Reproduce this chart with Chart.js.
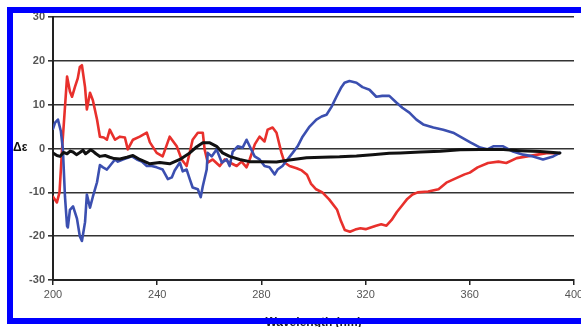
<!DOCTYPE html>
<html>
<head>
<meta charset="utf-8">
<script src="https://cdn.jsdelivr.net/npm/chart.js@4/dist/chart.umd.min.js"></script>
<style>
  html, body { margin: 0; padding: 0; background: #fff; overflow: hidden; }
  #wrap { position: relative; width: 581px; height: 327px; overflow: hidden; }
  #c { position: absolute; left: 0; top: 0; }
  #frame { position: absolute; left: 7px; top: 7px; width: 620px; height: 317px; border: 6px solid #0000ff; box-sizing: border-box; pointer-events: none; }
</style>
</head>
<body>
<div id="wrap">
  <canvas id="c" width="581" height="327"></canvas>
  <div id="frame"></div>
</div>
<script>
// ---- Data ----
const xTickLabels = [200, 240, 280, 320, 360, 400];
const yTickLabels = [-30, -20, -10, 0, 10, 20, 30];

const redWavelength = [200, 201.5, 202.5, 203.5, 205.4, 206.5, 207.3, 208.4, 209.5, 210.3, 211.1, 212.3, 213, 214.2, 215.3, 216.9, 218, 219.5, 220.7, 221.8, 223.8, 225.7, 227.6, 228.7, 230.7, 233.3, 236, 237.2, 239.8, 242.1, 244.8, 247.5, 249.4, 251.3, 253.6, 255.6, 257.5, 258.2, 259.4, 261.3, 264, 265.9, 267.8, 270.5, 272.4, 274.3, 275.5, 277.5, 279.3, 281.2, 282.4, 284.3, 285.8, 287.7, 288.9, 290.8, 293.5, 295.5, 297.5, 299, 301, 303.4, 306, 309, 310.5, 312, 314, 316, 318, 320, 322, 324, 326, 328, 330, 332, 334, 336, 338, 340, 344, 348, 351, 355, 358, 360, 363, 367, 371, 374, 378, 382, 386, 390, 394];
const redValues = [-11, -12.3, -10, 0, 16.4, 13, 11.8, 14, 16, 18.6, 19, 14, 8.9, 12.7, 11, 6.6, 2.7, 2.5, 2, 4.3, 2, 2.7, 2.5, -0.2, 2, 2.7, 3.6, 1.4, -1, -1.8, 2.7, 0.5, -2.5, -4, 2, 3.6, 3.6, -0.2, -3.2, -2.5, -4, -2.5, -3.2, -4, -3, -4.3, -2.5, 1, 2.7, 1.6, 4.3, 4.8, 3.6, -1, -3.2, -4, -4.5, -5, -6, -8, -9.3, -10, -11.6, -13.9, -16.5, -18.6, -19, -18.5, -18.2, -18.4, -18, -17.6, -17.3, -17.6, -16.3, -14.5, -13, -11.5, -10.5, -10, -9.8, -9.3, -7.8, -6.7, -5.9, -5.5, -4.3, -3.3, -3, -3.3, -2.2, -1.8, -1.4, -1, -1.2];

const blueWavelength = [200, 200.8, 201.9, 203, 203.8, 204.6, 205.4, 205.7, 206.5, 207.7, 209.2, 210.3, 211.1, 212.3, 213, 214.2, 215.3, 216.9, 218, 219.2, 220.7, 221.8, 223.8, 224.9, 226.8, 230.3, 232.2, 234.1, 236, 237.9, 239.8, 242.1, 244.1, 245.6, 246.7, 248.7, 249.8, 251.3, 252.5, 253.6, 255.6, 256.7, 257.5, 259, 259.4, 260.9, 262.8, 264.8, 266.7, 267.8, 269, 270.9, 272.8, 274.3, 275.5, 277.4, 279.3, 281.2, 283.1, 285.1, 286.2, 288.1, 290, 292, 293.9, 295.8, 298.5, 301.1, 303.1, 305, 306.9, 308.8, 310.7, 311.9, 313.8, 316.5, 318.8, 321.5, 324.1, 326.4, 329.1, 331.8, 334.1, 336.8, 339.5, 342.1, 346, 349.8, 353.6, 356.3, 360.2, 364, 366.7, 369, 372.8, 376.6, 380.5, 384.3, 388.1, 392, 394.6];
const blueValues = [4.5, 5.9, 6.6, 4, -0.2, -11, -17.7, -18, -14, -13.2, -16, -20, -21.1, -16.8, -10.5, -13.5, -11, -7.7, -3.8, -4.3, -4.8, -4, -2.5, -3, -2.5, -1.8, -2.5, -3, -4, -4, -4.3, -4.8, -7, -6.6, -5, -3.2, -5.2, -4.8, -7, -8.9, -9.3, -11.1, -8.6, -4.8, -1, -1.8, -0.2, -3.2, -2.5, -4, -0.7, 0.5, 0.2, 2, 0.5, -1.8, -2.5, -4, -4.3, -5.9, -4.8, -4, -2.5, -1, 0.5, 2.7, 5, 6.6, 7.3, 7.7, 9.5, 11.8, 14, 15, 15.4, 15, 14, 13.4, 11.8, 12, 12, 10.5, 9.3, 8.2, 6.6, 5.5, 4.8, 4.3, 3.6, 2.7, 1.4, 0.2, -0.2, 0.5, 0.5, -0.7, -1.4, -1.8, -2.5, -1.8, -1];

const blackWavelength = [200, 201.5, 202.7, 204, 205.4, 206.6, 207.7, 209, 210.3, 211.5, 212.5, 213.4, 214.4, 215.3, 216.5, 218, 220, 221.8, 223.5, 225.7, 228.4, 230.7, 233.3, 237.2, 241, 244.8, 248.7, 252.5, 255.2, 257.5, 260.2, 262.8, 265.1, 267.8, 271.6, 275.5, 280.5, 285.8, 290.8, 297.3, 303.4, 310, 316.5, 322.6, 329.1, 333.3, 341, 348.7, 356.3, 364, 371.6, 379.3, 387, 394.6];
const blackValues = [-1, -1.6, -1.8, -0.9, -1.2, -0.6, -0.8, -1.4, -0.9, -0.4, -1.2, -0.8, -0.3, -0.6, -1.2, -1.8, -1.6, -2, -2.3, -2.4, -2, -1.6, -2.5, -3.5, -3.2, -3.5, -2.5, -1, 0.4, 1.3, 1.3, 0.5, -1, -1.8, -2.5, -3, -3, -3.1, -2.6, -2.1, -2, -1.9, -1.7, -1.4, -1.1, -1, -0.8, -0.6, -0.3, -0.2, -0.2, -0.5, -0.7, -1];

const toPoints = (xs, ys) => xs.map((x, i) => ({ x: x, y: ys[i] }));

const deltaLabel = {
  id: 'deltaLabel',
  afterDraw(chart) {
    const ctx = chart.ctx;
    const y0 = chart.scales.y.getPixelForValue(0);
    ctx.save();
    ctx.font = 'bold 12px "Liberation Sans", Arial, sans-serif';
    ctx.fillStyle = '#111';
    ctx.textAlign = 'left';
    ctx.textBaseline = 'middle';
    ctx.fillText('Δε', 13, y0 - 1);
    ctx.restore();
  }
};

new Chart(document.getElementById('c'), {
  type: 'line',
  data: {
    datasets: [
      { label: 'black', data: toPoints(blackWavelength, blackValues), borderColor: '#111111', borderWidth: 3, order: 0 },
      { label: 'blue', data: toPoints(blueWavelength, blueValues), borderColor: '#3b4fb0', borderWidth: 2.6, order: 1 },
      { label: 'red', data: toPoints(redWavelength, redValues), borderColor: '#e8302c', borderWidth: 2.6, order: 2 }
    ]
  },
  options: {
    responsive: false,
    animation: false,
    devicePixelRatio: 1,
    elements: { point: { radius: 0 }, line: { tension: 0, borderJoinStyle: 'round', borderCapStyle: 'round' } },
    layout: { padding: { left: 0, right: 7, top: 17, bottom: 0 } },
    plugins: { legend: { display: false }, tooltip: { enabled: false } },
    scales: {
      x: {
        type: 'linear', min: 200, max: 400,
        afterBuildTicks: (s) => { s.ticks = xTickLabels.map(v => ({ value: v })); },
        afterFit: (s) => { s.height = 47; s.paddingLeft = 0; s.paddingRight = 0; },
        grid: { drawOnChartArea: false, drawTicks: true, tickLength: 5, color: '#222', lineWidth: 1.5 },
        border: { display: true, color: '#222', width: 2 },
        ticks: { color: '#555', padding: 3, maxRotation: 0, font: { family: '"Liberation Sans", Arial, sans-serif', size: 11 } },
        title: { display: true, text: 'Wavelength (nm)', color: '#222', padding: { top: 9, bottom: -3 }, font: { family: '"Liberation Sans", Arial, sans-serif', size: 12, weight: 'bold' } }
      },
      y: {
        type: 'linear', min: -30, max: 30,
        afterBuildTicks: (s) => { s.ticks = yTickLabels.map(v => ({ value: v })); },
        afterFit: (s) => { s.width = 53; s.paddingTop = 0; s.paddingBottom = 0; },
        grid: { color: '#333', lineWidth: 1.6, drawTicks: true, tickLength: 5 },
        border: { display: true, color: '#222', width: 2 },
        ticks: { color: '#555', padding: 3, font: { family: '"Liberation Sans", Arial, sans-serif', size: 11, weight: 'bold' } }
      }
    }
  },
  plugins: [deltaLabel]
});
</script>
</body>
</html>
